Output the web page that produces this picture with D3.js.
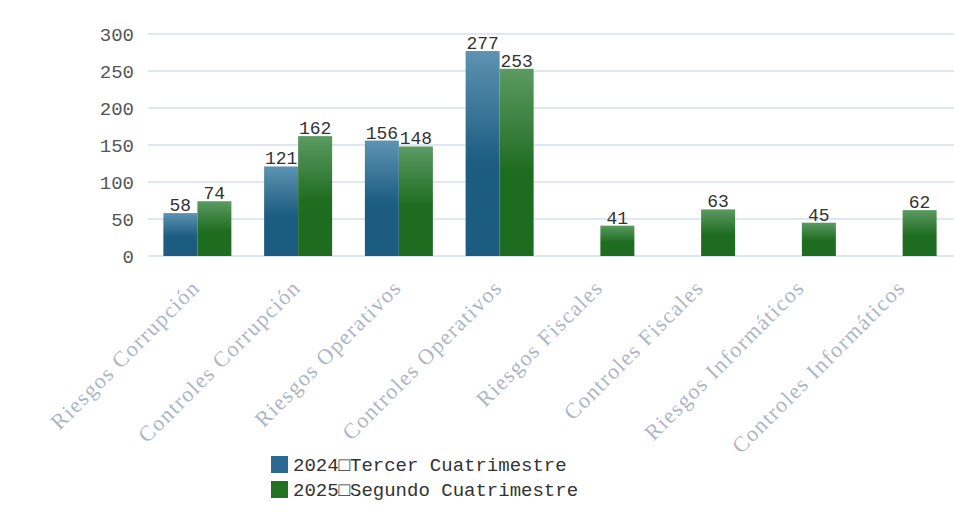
<!DOCTYPE html>
<html><head><meta charset="utf-8">
<script src="https://cdn.jsdelivr.net/npm/d3@7"></script>
<style>html,body{margin:0;padding:0;background:#fff;}svg{display:block;}</style>
</head><body>
<svg id="chart" width="954" height="522"></svg>
<script>
const categories = ["Riesgos Corrupción","Controles Corrupción","Riesgos Operativos","Controles Operativos","Riesgos Fiscales","Controles Fiscales","Riesgos Informáticos","Controles Informáticos"];
const series2024 = [58, 121, 156, 277, null, null, null, null];
const series2025 = [74, 162, 148, 253, 41, 63, 45, 62];
const seriesNames = ["2024\u25A1Tercer Cuatrimestre", "2025\u25A1Segundo Cuatrimestre"];
const yTicks = [0, 50, 100, 150, 200, 250, 300];

const svg = d3.select("#chart");
const defs = svg.append("defs");
const grads = [["gBlue","#5e93b2","#1b5c80"],["gGreen","#5c9a62","#1e6c20"]];
grads.forEach(([id,c1,c2])=>{
  const g = defs.append("linearGradient").attr("id",id).attr("x1",0).attr("x2",0).attr("y1",0).attr("y2",1);
  g.append("stop").attr("offset","0%").attr("stop-color",c1);
  g.append("stop").attr("offset","55%").attr("stop-color",c2);
  g.append("stop").attr("offset","100%").attr("stop-color",c2);
});

const y = d3.scaleLinear().domain([0,300]).range([256,34]);
const x = d3.scaleBand().domain(categories).range([147,953]).padding(0);
const inner = d3.scaleBand().domain([0,1]).range([0,68]);

// grid
svg.append("g").selectAll("line").data(yTicks).join("line")
  .attr("x1",148).attr("x2",954).attr("y1",d=>y(d)).attr("y2",d=>y(d))
  .attr("stroke","#dfe7f5").attr("stroke-width",2);

// y axis
const yAxis = d3.axisLeft(y).tickValues(yTicks).tickSize(0).tickPadding(0);
const ga = svg.append("g").attr("transform","translate(134,0)").call(yAxis);
ga.select(".domain").remove();
ga.selectAll("text").attr("font-family","Liberation Mono, monospace").attr("font-size",19).attr("fill","#555").attr("dy","0.35em");

const groups = svg.append("g").selectAll("g").data(categories).join("g")
  .attr("transform",d=>`translate(${x(d)+x.bandwidth()/2-34},0)`);

const allSeries = [series2024, series2025];
allSeries.forEach((s,si)=>{
  groups.filter((d,i)=>s[i]!=null).append("rect")
    .attr("x",inner(si)).attr("width",inner.bandwidth())
    .attr("y",(d)=>y(s[categories.indexOf(d)]))
    .attr("height",(d)=>y(0)-y(s[categories.indexOf(d)]))
    .attr("fill",si===0?"url(#gBlue)":"url(#gGreen)");
  groups.filter((d,i)=>s[i]!=null).append("text")
    .attr("x",inner(si)+inner.bandwidth()/2)
    .attr("y",(d)=>y(s[categories.indexOf(d)])-2)
    .attr("text-anchor","middle")
    .attr("font-family","Liberation Mono, monospace").attr("font-size",18).attr("fill","#333")
    .text(d=>s[categories.indexOf(d)]);
});

// category labels
svg.append("g").selectAll("text").data(categories).join("text")
  .attr("transform",d=>`translate(${x(d)+x.bandwidth()/2+4},289) rotate(-45)`)
  .attr("text-anchor","end")
  .attr("font-family","Liberation Serif, serif").attr("font-size",22).attr("letter-spacing",1.4).attr("fill","#aeb6c4")
  .text(d=>d);

// legend
const lg = svg.append("g").attr("transform","translate(271,456)");
const cols = ["#2a6a92","#237224"];
seriesNames.forEach((n,i)=>{
  lg.append("rect").attr("x",0).attr("y",i*25).attr("width",17).attr("height",17).attr("fill",cols[i]);
  lg.append("text").attr("x",22).attr("y",i*25+15)
    .attr("font-family","Liberation Mono, monospace").attr("font-size",19).attr("fill","#333").text(n);
});
</script>
</body></html>
